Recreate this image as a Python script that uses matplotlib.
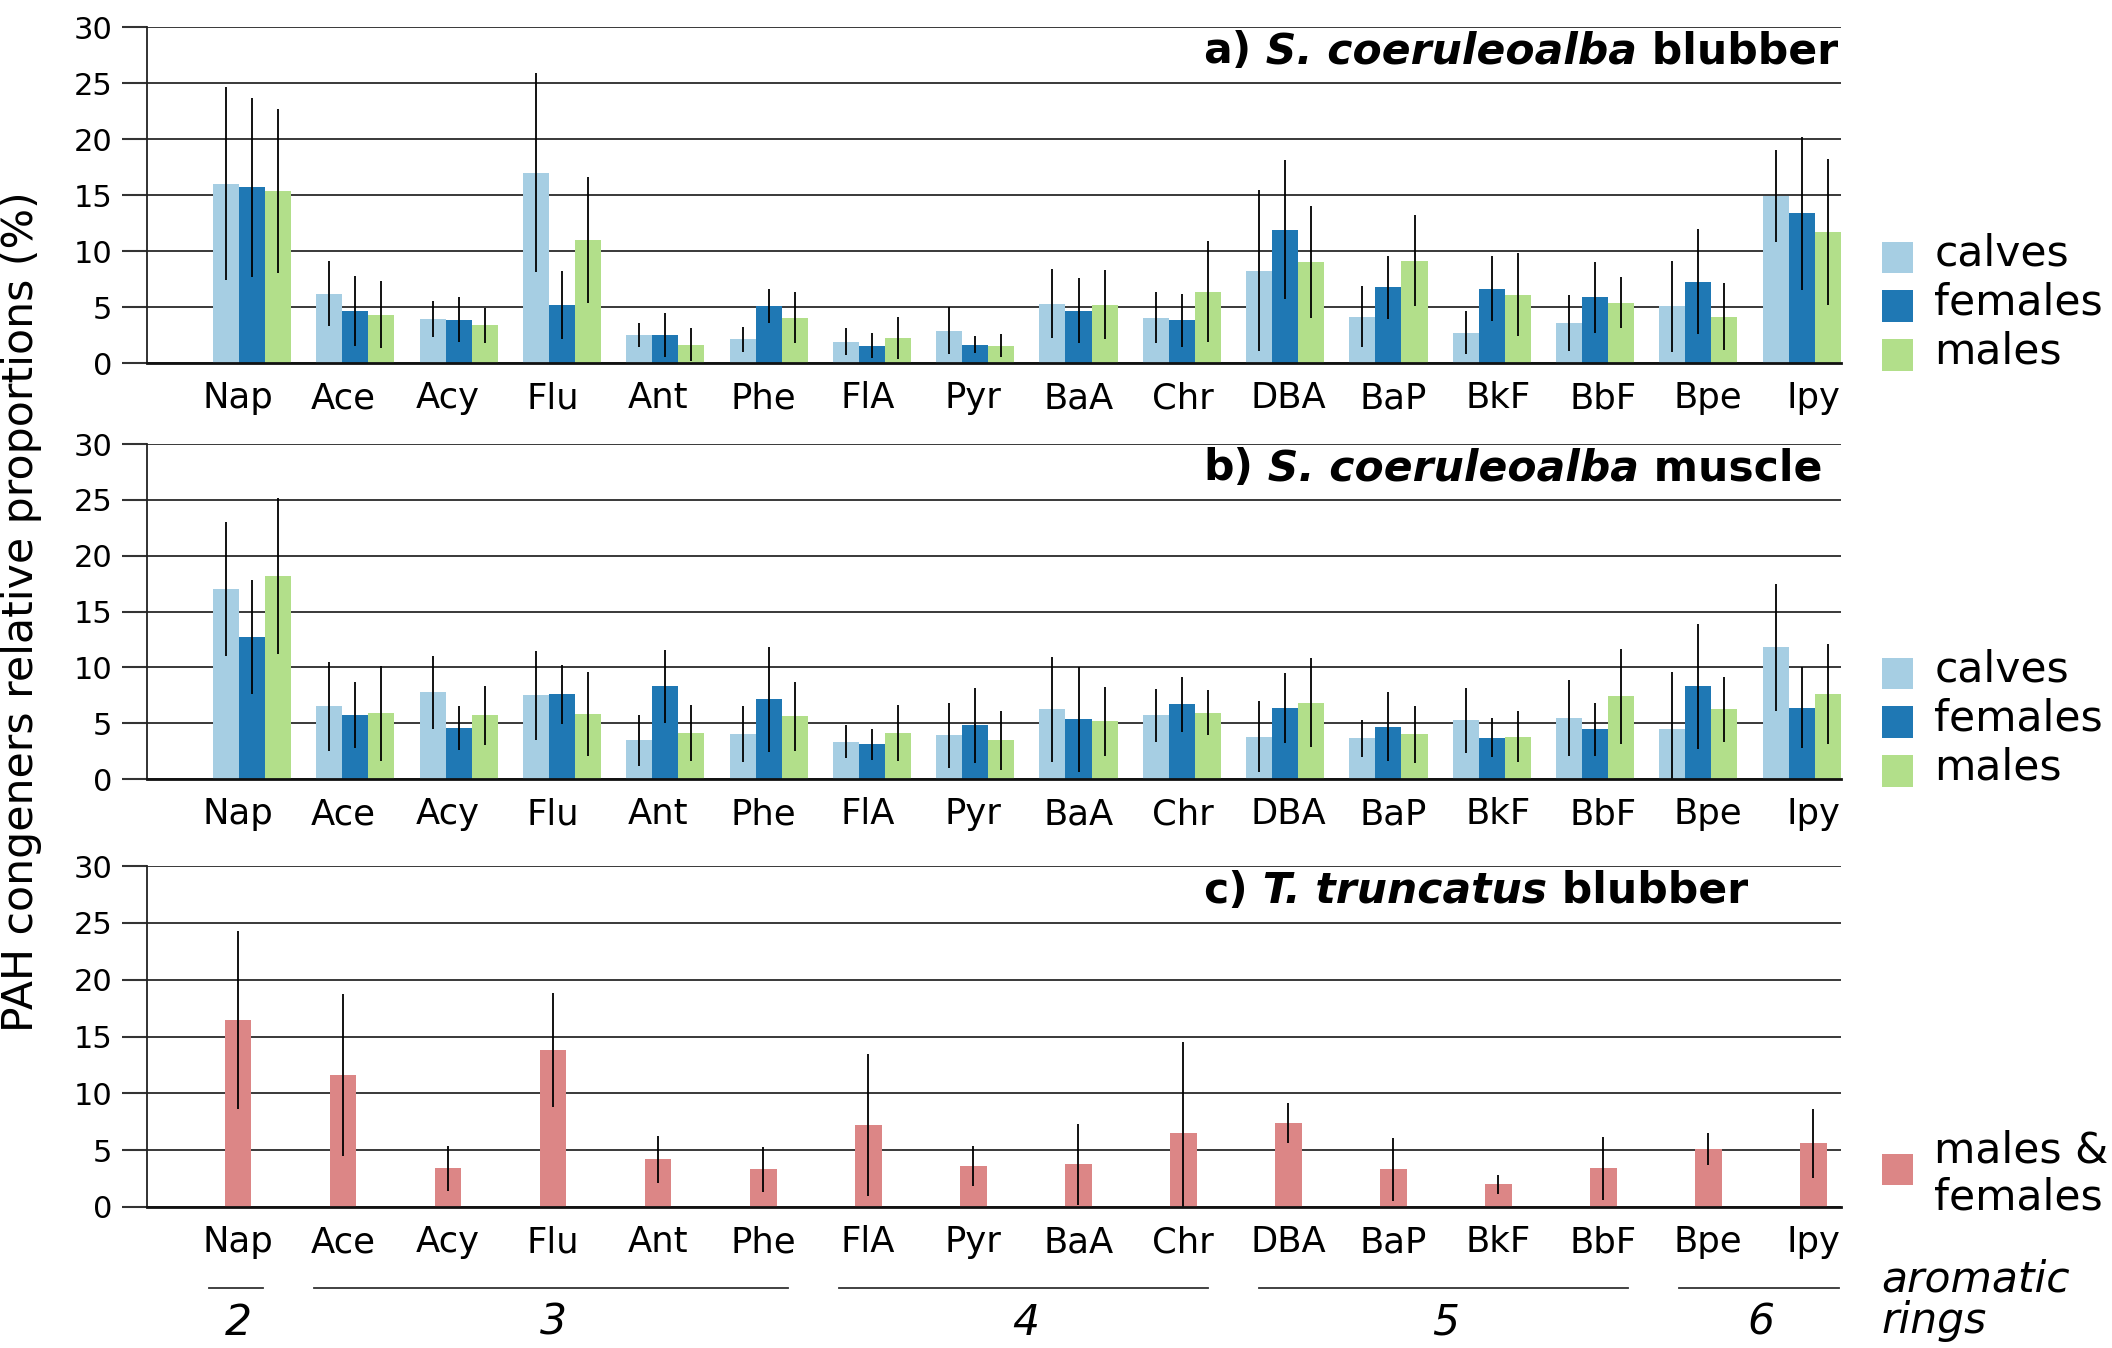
import matplotlib
matplotlib.use('Agg')
import matplotlib.pyplot as plt
import matplotlib.transforms as mtransforms
from matplotlib.patches import Rectangle
from matplotlib.legend_handler import HandlerPatch
import numpy as np

plt.rcParams['font.family'] = ['DejaVu Sans']

categories = ['Nap', 'Ace', 'Acy', 'Flu', 'Ant', 'Phe', 'FlA', 'Pyr',
              'BaA', 'Chr', 'DBA', 'BaP', 'BkF', 'BbF', 'Bpe', 'Ipy']
rings = [2, 3, 3, 3, 3, 3, 4, 4, 4, 4, 5, 5, 5, 5, 6, 6]

# a) S. coeruleoalba blubber
a_calves = [16.0, 6.2, 3.95, 17.0, 2.5, 2.1, 1.9, 2.9, 5.3, 4.05, 8.25, 4.15, 2.7, 3.6, 5.05, 14.9]
a_calves_sd = [8.6, 2.9, 1.6, 8.9, 1.1, 1.1, 1.2, 2.1, 3.1, 2.25, 7.2, 2.75, 1.9, 2.5, 4.1, 4.1]
a_females = [15.7, 4.65, 3.85, 5.2, 2.5, 5.1, 1.55, 1.65, 4.65, 3.8, 11.9, 6.75, 6.65, 5.85, 7.25, 13.35]
a_females_sd = [8.0, 3.1, 2.0, 3.05, 2.0, 1.5, 1.1, 0.8, 2.9, 2.4, 6.2, 2.8, 2.9, 3.2, 4.7, 6.8]
a_males = [15.35, 4.3, 3.35, 11.0, 1.65, 4.05, 2.25, 1.55, 5.2, 6.35, 9.05, 9.15, 6.1, 5.4, 4.15, 11.7]
a_males_sd = [7.3, 3.0, 1.55, 5.6, 1.5, 2.3, 1.9, 1.0, 3.1, 4.5, 5.0, 4.1, 3.7, 2.3, 3.0, 6.5]

# b) S. coeruleoalba muscle
b_calves = [17.0, 6.5, 7.75, 7.5, 3.45, 4.0, 3.35, 3.9, 6.25, 5.7, 3.8, 3.65, 5.25, 5.45, 4.45, 11.8]
b_calves_sd = [6.0, 4.0, 3.3, 4.0, 2.3, 2.5, 1.5, 2.95, 4.7, 2.4, 3.2, 1.65, 2.9, 3.4, 5.1, 5.7]
b_females = [12.7, 5.7, 4.55, 7.6, 8.3, 7.15, 3.1, 4.8, 5.35, 6.7, 6.35, 4.7, 3.7, 4.45, 8.3, 6.4]
b_females_sd = [5.1, 2.95, 1.95, 2.65, 3.25, 4.7, 1.4, 3.35, 4.7, 2.45, 3.1, 3.1, 1.75, 2.35, 5.6, 3.6]
b_males = [18.15, 5.9, 5.7, 5.8, 4.1, 5.6, 4.1, 3.45, 5.15, 5.95, 6.85, 4.0, 3.8, 7.4, 6.25, 7.6]
b_males_sd = [7.0, 4.25, 2.65, 3.75, 2.5, 3.05, 2.5, 2.65, 3.1, 2.05, 4.0, 2.55, 2.3, 4.25, 2.9, 4.5]

# c) T. truncatus blubber (males & females)
c_all = [16.45, 11.6, 3.4, 13.8, 4.2, 3.3, 7.2, 3.6, 3.75, 6.5, 7.4, 3.3, 2.0, 3.4, 5.1, 5.6]
c_all_sd = [7.8, 7.1, 2.0, 5.0, 2.05, 2.0, 6.25, 1.75, 3.55, 8.0, 1.75, 2.8, 0.85, 2.8, 1.4, 3.05]

group_labels = ['calves', 'females', 'males']
group_colors = ['#a6cee3', '#1f78b4', '#b2df8a']
c_label = 'males &\nfemales'
c_color = '#dc8686'

FS = 30.6
W, H = 2112, 1348
fig = plt.figure(figsize=(W / 100, H / 100), dpi=100)

left = 147 / W
width = 1694 / W
panels_px = [(27, 363), (444, 779), (866, 1207)]
axes = []
for top, bot in panels_px:
    ax = fig.add_axes([left, 1 - bot / H, width, (bot - top) / H])
    axes.append(ax)

x = np.arange(len(categories))
# label row is spaced slightly wider than the bar groups in the original
label_scale, label_shift = 1.0165, -0.1355
x_lab = x * label_scale + label_shift


def style_axis(ax):
    ax.set_xlim(-1.016, 15.38)
    ax.set_ylim(0, 30)
    ax.set_yticks(np.arange(0, 31, 5))
    ax.set_axisbelow(True)
    ax.yaxis.grid(True, color='#2a2a2a', lw=1.3)
    for s in ['top', 'right']:
        ax.spines[s].set_visible(False)
    ax.spines['left'].set_color('#222222')
    ax.spines['left'].set_linewidth(1.3)
    ax.spines['bottom'].set_color('#111111')
    ax.spines['bottom'].set_linewidth(2.0)
    ax.tick_params(axis='y', direction='out', length=18, width=1.5, color='#333333',
                   labelsize=22, pad=7)
    ax.set_xticks(x_lab)
    ax.set_xticklabels(categories, fontsize=25.5)
    ax.tick_params(axis='x', length=0, pad=13)


def handler(y0_em):
    def f(legend, orig_handle, xdescent, ydescent, width, height, fontsize):
        side = 0.74 * fontsize
        return Rectangle((-xdescent, y0_em * fontsize), side, side)
    return HandlerPatch(patch_func=f)


def panel_title(ax, prefix, species, tissue):
    tr = mtransforms.blended_transform_factory(ax.transAxes, ax.transData)
    t1 = ax.text(0.6234, 26.75, prefix, transform=tr, fontsize=FS, fontweight='bold',
                 va='baseline', ha='left')
    t2 = ax.annotate(' ' + species, xy=(1, 0), xycoords=t1, va='bottom', ha='left',
                     fontsize=FS, fontweight='bold', fontstyle='italic')
    ax.annotate(' ' + tissue, xy=(1, 0), xycoords=t2, va='bottom', ha='left',
                fontsize=FS, fontweight='bold')


bw = 0.252
ekw = dict(elinewidth=1.3, ecolor='black', capsize=0)
for ax, data, ttl in [
        (axes[0], [(a_calves, a_calves_sd), (a_females, a_females_sd), (a_males, a_males_sd)],
         ('a)', 'S. coeruleoalba', 'blubber')),
        (axes[1], [(b_calves, b_calves_sd), (b_females, b_females_sd), (b_males, b_males_sd)],
         ('b)', 'S. coeruleoalba', 'muscle'))]:
    style_axis(ax)
    for k, ((m, sd), col) in enumerate(zip(data, group_colors)):
        ax.bar(x + (k - 1) * bw, m, width=bw, color=col, yerr=sd, error_kw=ekw, zorder=2)
    panel_title(ax, *ttl)
    hs = [Rectangle((0, 0), 1, 1, facecolor=c, edgecolor='none') for c in group_colors]
    hb = ax.get_position().height * H
    ax.legend(hs, group_labels, loc='lower left', bbox_to_anchor=(1.024, -9.5 / hb),
              frameon=False, fontsize=FS, handlelength=0.74, handleheight=0.74,
              handletextpad=0.5, labelspacing=0.16, borderpad=0, borderaxespad=0,
              handler_map={h: handler(-0.17) for h in hs})

axc = axes[2]
style_axis(axc)
axc.bar(x_lab, c_all, width=0.26, color=c_color, yerr=c_all_sd, error_kw=ekw, zorder=2)
panel_title(axc, 'c)', 'T. truncatus', 'blubber')
hc = Rectangle((0, 0), 1, 1, facecolor=c_color, edgecolor='none')
hbc = axc.get_position().height * H
legc = axc.legend([hc], [c_label], loc='lower left', bbox_to_anchor=(1.024, -11 / hbc),
                  frameon=False, fontsize=FS, handlelength=0.74, handleheight=0.74,
                  handletextpad=0.5, borderpad=0, borderaxespad=0,
                  handler_map={hc: handler(0.12)})
for t in legc.get_texts():
    t.set_linespacing(1.14)

# aromatic rings annotation
xt = axc.get_xaxis_transform()
rings_arr = np.array(rings)
for r in np.unique(rings_arr):
    sel = rings_arr == r
    lo = (x[sel].min() - 0.28) * label_scale + label_shift
    hi = (x[sel].max() + 0.24) * label_scale + label_shift
    axc.plot([lo, hi], [-0.2375, -0.2375], transform=xt,
             color='#333333', lw=1.3, clip_on=False)
    axc.text(x_lab[sel].mean(), -0.375, str(r), transform=xt, ha='center', va='baseline',
             fontsize=FS, fontstyle='italic')
axc.text(1.024, -0.3695, 'aromatic\nrings', transform=axc.transAxes, ha='left',
         va='baseline', fontsize=FS, fontstyle='italic', linespacing=0.99)

fig.text(0.0, 1 - 611.5 / H, 'PAH congeners relative proportions (%)', rotation=90,
         ha='left', va='center', fontsize=30.7)

fig.savefig('out.png', dpi=100)
